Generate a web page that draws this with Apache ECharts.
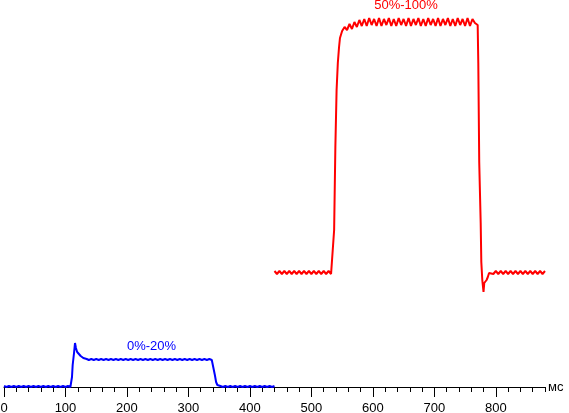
<!DOCTYPE html>
<html>
<head>
<meta charset="utf-8">
<script src="https://cdn.jsdelivr.net/npm/echarts@6/dist/echarts.min.js"></script>
<style>
  html, body { margin: 0; padding: 0; background: #fff; }
  #main { width: 569px; height: 413px; }
</style>
</head>
<body>
<div id="main"></div>
<script>
  // time in ms, level in screen units above the axis
  const blueTimes = [
    0, 4, 8, 12, 16, 20, 24, 28, 32, 36, 40, 44, 48, 52, 56, 60, 64, 68, 72, 76, 80, 84, 88, 92, 96, 100, 104, 108,
    110.6, 111.7, 113.9, 115.5, 117, 119, 122, 124.7, 129, 134.5,
    138, 142, 146, 150, 154, 158, 162, 166, 170, 174, 178, 182, 186, 190, 194, 198, 202, 206, 210, 214, 218, 222,
    226, 230, 234, 238, 242, 246, 250, 254, 258, 262, 266, 270, 274, 278, 282, 286, 290, 294, 298, 302, 306, 310,
    314, 318, 322, 326, 330, 334, 338,
    341, 343, 345, 347, 349,
    352, 356, 360, 364, 368, 372, 376, 380, 384, 388, 392, 396, 400, 404, 408, 412, 416, 420, 424, 428, 432, 436, 440
  ]
  const blueValues = [
    1, 0, 1, 0, 1, 0, 1, 0, 1, 0, 1, 0, 1, 0, 1, 0, 1, 0, 1, 0, 1, 0, 1, 0, 1, 0, 1, 0,
    10, 22, 34, 44, 39, 35, 33, 31, 29, 28,
    27, 28, 27, 28, 27, 28, 27, 28, 27, 28, 27, 28, 27, 28, 27, 28, 27, 28, 27, 28, 27, 28,
    27, 28, 27, 28, 27, 28, 27, 28, 27, 28, 27, 28, 27, 28, 27, 28, 27, 28, 27, 28, 27, 28,
    27, 28, 27, 28, 27, 28, 27,
    27, 12, 5, 2, 1,
    1, 0, 1, 0, 1, 0, 1, 0, 1, 0, 1, 0, 1, 0, 1, 0, 1, 0, 1, 0, 1, 0, 1
  ]
  const redTimes = [
    440, 444, 448, 452, 456, 460, 464, 468, 472, 476, 480, 484, 488, 492, 496, 500, 504, 508, 512, 516, 520, 524, 528, 532,
    535, 537, 539, 541, 543, 545, 546.5, 548, 550,
    554, 558, 562, 566, 570, 574, 578, 582, 586, 590, 594, 598, 602, 606, 610, 614, 618, 622, 626, 630, 634, 638,
    642, 646, 650, 654, 658, 662, 666, 670, 674, 678, 682, 686, 690, 694, 698, 702, 706, 710, 714, 718, 722, 726,
    730, 734, 738, 742, 746, 750, 754, 758, 762, 766,
    768, 770.5, 771.5, 773, 775.4, 776.4, 778, 780, 781.2, 783, 785, 787, 789,
    792, 796, 800, 804, 808, 812, 816, 820, 824, 828, 832, 836, 840, 844, 848, 852, 856, 860, 864, 868, 872, 876, 880
  ]
  const redValues = [
    116, 113, 116, 113, 116, 113, 116, 113, 116, 113, 116, 113, 116, 113, 116, 113, 116, 113, 116, 113, 116, 113, 116, 113,
    114, 157, 240, 297, 324, 340, 349, 352, 356,
    360, 357, 363, 358, 365, 360, 367, 361, 368, 361, 369, 362, 368, 361, 369, 361, 368, 362, 369, 361, 368, 361,
    369, 362, 368, 361, 369, 361, 368, 362, 369, 361, 368, 361, 369, 362, 368, 361, 369, 361, 368, 362, 369, 361,
    368, 361, 369, 362, 368, 361, 369, 361, 368, 364,
    366, 362, 324, 225, 164, 125, 107, 95, 104, 106, 107, 110, 114,
    116, 113, 116, 113, 116, 113, 116, 113, 116, 113, 116, 113, 116, 113, 116, 113, 116, 113, 116, 113, 116, 113, 116
  ]
  const xTickLabels = ['0', '100', '200', '300', '400', '500', '600', '700', '800']
  const blueTag = { text: '0%-20%', at: [240, 40.5] }
  const redTag = { text: '50%-100%', at: [654, 381.5] }

  const zip = (xs, ys) => xs.map((x, i) => [x, ys[i]])

  const tagPoint = (tag, color) => ({
    symbol: 'circle',
    symbolSize: 0,
    silent: true,
    label: {
      show: true,
      position: 'inside',
      formatter: tag.text,
      color: color,
      fontSize: 13,
      fontFamily: 'Arial'
    },
    data: [{ coord: tag.at }]
  })

  const myChart = echarts.init(document.getElementById('main'))
  myChart.setOption({
    animation: false,
    backgroundColor: '#fff',
    grid: {
      left: 4,
      right: 24,
      top: 0,
      bottom: 26,
      outerBoundsMode: 'none'
    },
    xAxis: [
      {
        type: 'value',
        position: 'bottom',
        min: 0,
        max: 880,
        interval: 100,
        name: 'мс',
        nameLocation: 'end',
        nameGap: 3,
        nameTextStyle: { color: '#000', fontSize: 13, fontFamily: 'Arial' },
        splitLine: { show: false },
        axisLine: { show: true, lineStyle: { color: '#000', width: 1 } },
        axisTick: { show: true, length: 10, lineStyle: { color: '#000' } },
        axisLabel: {
          color: '#000',
          fontSize: 13,
          fontFamily: 'Arial',
          margin: 15,
          showMaxLabel: false,
          formatter: (v) => (xTickLabels.includes(String(v)) ? String(v) : '')
        }
      },
      {
        // minor ticks every 20 ms
        type: 'value',
        position: 'bottom',
        min: 0,
        max: 880,
        interval: 20,
        splitLine: { show: false },
        axisLine: { show: false },
        axisTick: { show: true, length: 5, lineStyle: { color: '#000' } },
        axisLabel: { show: false }
      }
    ],
    yAxis: {
      type: 'value',
      min: 0,
      max: 387,
      show: false
    },
    series: [
      {
        name: '0%-20%',
        type: 'line',
        showSymbol: false,
        data: zip(blueTimes, blueValues),
        lineStyle: { color: '#0000ff', width: 2 },
        itemStyle: { color: '#0000ff' },
        markPoint: tagPoint(blueTag, '#0000ff')
      },
      {
        name: '50%-100%',
        type: 'line',
        showSymbol: false,
        data: zip(redTimes, redValues),
        lineStyle: { color: '#ff0000', width: 2 },
        itemStyle: { color: '#ff0000' },
        markPoint: tagPoint(redTag, '#ff0000')
      }
    ]
  })
</script>
</body>
</html>
